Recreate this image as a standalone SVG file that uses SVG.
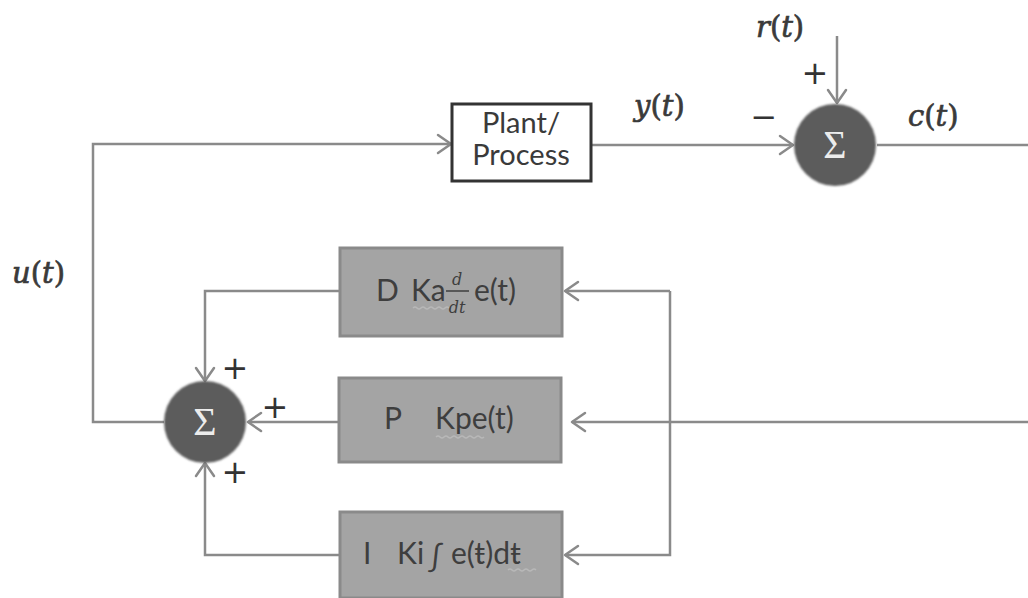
<svg xmlns="http://www.w3.org/2000/svg" width="1028" height="598" viewBox="0 0 1028 598">
  <defs>
    <marker id="arrow" markerUnits="userSpaceOnUse" markerWidth="20" markerHeight="24" viewBox="-14 -12 16 24" refX="0" refY="0" orient="auto">
      <path d="M-13,-9 L0,0 L-13,9" fill="none" stroke="#8a8a8a" stroke-width="2.5" stroke-linecap="round" stroke-linejoin="round"/>
    </marker>
    <filter id="soft" x="-20%" y="-20%" width="140%" height="140%">
      <feGaussianBlur stdDeviation="1"/>
    </filter>
  </defs>
  <style>
    .wire { fill: none; stroke: #8a8a8a; stroke-width: 2.5; }
    .block { fill: #a4a4a4; stroke: #8a8a8a; stroke-width: 3; }
    .plant { fill: #ffffff; stroke: #333333; stroke-width: 3; }
    .sum { fill: #5c5c5c; }
    .sigma { font-family: "Liberation Serif", serif; font-size: 40px; fill: #ececec; text-anchor: middle; }
    .lbl { font-family: Lato, "Open Sans", sans-serif; font-size: 30px; fill: #3e3e3e; }
    .frac { font-family: "DejaVu Serif", serif; font-style: italic; font-size: 16px; fill: #3e3e3e; text-anchor: middle; }
    .plab { font-family: Lato, "Open Sans", sans-serif; font-size: 29px; fill: #3a3a3a; text-anchor: middle; }
    .math { font-family: "DejaVu Serif", serif; font-size: 29px; fill: #3a3a3a; stroke: #3a3a3a; stroke-width: 0.7; }
    .it { font-style: italic; }
    .sign { font-family: "DejaVu Sans", sans-serif; font-size: 32px; fill: #333333; text-anchor: middle; }
    .squiggle { fill: none; stroke: #b8b8b8; stroke-width: 1.5; }
  </style>

  <!-- connectors -->
  <g id="connectors">
    <path class="wire" d="M164,422 H93 V144 H451" marker-end="url(#arrow)"/>
    <path class="wire" d="M592,145 H793" marker-end="url(#arrow)"/>
    <path class="wire" d="M837,36 V103" marker-end="url(#arrow)"/>
    <path class="wire" d="M877,145 H1028"/>
    <path class="wire" d="M1028,422 H572" marker-end="url(#arrow)"/>
    <path class="wire" d="M670,291 H565" marker-end="url(#arrow)"/>
    <path class="wire" d="M670,291 V555 H565" marker-end="url(#arrow)"/>
    <path class="wire" d="M340,291 H205 V381" marker-end="url(#arrow)"/>
    <path class="wire" d="M339,422 H248" marker-end="url(#arrow)"/>
    <path class="wire" d="M340,555 H205 V463" marker-end="url(#arrow)"/>
  </g>

  <!-- plant -->
  <g id="plant">
    <rect class="plant" x="452" y="104" width="139" height="77"/>
    <text class="plab" x="521" y="133">Plant/</text>
    <text class="plab" x="521" y="165">Process</text>
  </g>

  <!-- error summing junction -->
  <g id="sum-error">
    <circle class="sum" cx="835" cy="145" r="41" filter="url(#soft)"/>
    <text class="sigma" x="835" y="158">Σ</text>
  </g>

  <!-- controller summing junction -->
  <g id="sum-controller">
    <circle class="sum" cx="205" cy="422" r="41" filter="url(#soft)"/>
    <text class="sigma" x="205" y="435">Σ</text>
  </g>

  <!-- derivative term -->
  <g id="block-d">
    <rect class="block" x="340" y="248" width="222" height="88"/>
    <text class="lbl" x="376" y="301">D</text>
    <text class="lbl" x="411" y="301">Ka</text>
    <path class="squiggle" d="M413,308 q2,-2 4,0 t4,0 t4,0 t4,0 t4,0 t4,0 t4,0 t4,0 t4,0"/>
    <text class="frac" x="457" y="285">d</text>
    <line x1="446" y1="291" x2="469" y2="291" stroke="#3e3e3e" stroke-width="1.5"/>
    <text class="frac" x="457" y="313">dt</text>
    <text class="lbl" x="474" y="301">e(t)</text>
  </g>

  <!-- proportional term -->
  <g id="block-p">
    <rect class="block" x="339" y="378" width="222" height="84"/>
    <text class="lbl" x="384" y="429">P</text>
    <text class="lbl" x="435" y="429">Kpe(t)</text>
    <path class="squiggle" d="M436,437 q2,-2 4,0 t4,0 t4,0 t4,0 t4,0 t4,0 t4,0 t4,0 t4,0 t4,0 t4,0 t4,0"/>
  </g>

  <!-- integral term -->
  <g id="block-i">
    <rect class="block" x="340" y="512" width="222" height="86"/>
    <text class="lbl" x="363" y="564">I</text>
    <text class="lbl" x="397" y="564">Ki</text>
    <text class="lbl" x="428" y="567" font-family="DejaVu Sans, sans-serif" font-size="30">∫</text>
    <text class="lbl" x="451" y="564">e(ŧ)dŧ</text>
    <path class="squiggle" d="M508,570 q2,-2 4,0 t4,0 t4,0 t4,0 t4,0 t4,0 t4,0"/>
  </g>

  <!-- signal labels -->
  <g id="labels">
    <text class="math" x="756" y="37"><tspan class="it">r</tspan>(<tspan class="it">t</tspan>)</text>
    <text class="math" x="634" y="116"><tspan class="it">y</tspan>(<tspan class="it">t</tspan>)</text>
    <text class="math" x="908" y="126"><tspan class="it">c</tspan>(<tspan class="it">t</tspan>)</text>
    <text class="math" x="12" y="283"><tspan class="it">u</tspan>(<tspan class="it">t</tspan>)</text>
    <text class="sign" x="815" y="84">+</text>
    <text class="sign" x="764" y="128">−</text>
    <text class="sign" x="235" y="379">+</text>
    <text class="sign" x="275" y="418">+</text>
    <text class="sign" x="235" y="483">+</text>
  </g>
</svg>
